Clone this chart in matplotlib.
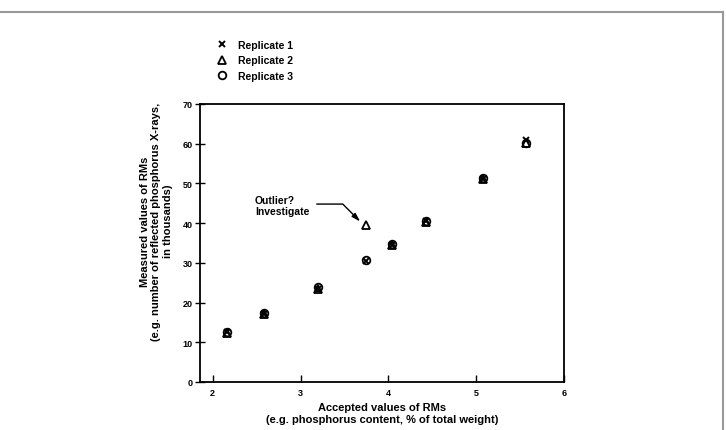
import numpy as np
import matplotlib.pyplot as plt
from matplotlib.lines import Line2D

plt.rcParams['font.family'] = ['Liberation Sans', 'DejaVu Sans']

# accepted values of the reference materials (% P)
accepted = [2.16, 2.58, 3.20, 3.75, 4.04, 4.43, 5.08, 5.57]
# measured values, thousands of counts
rep1 = [12.5, 17.0, 23.5, 30.5, 34.5, 40.5, 51.0, 61.0]
rep2 = [12.3, 17.2, 23.3, 39.5, 34.4, 40.2, 51.2, 60.2]
rep3 = [12.7, 17.3, 24.0, 30.6, 34.7, 40.6, 51.3, 60.3]

xticks = [2, 3, 4, 5, 6]
yticks = [0, 10, 20, 30, 40, 50, 60, 70]

fig = plt.figure(figsize=(7.26, 4.31), dpi=100)
ax = fig.add_axes([0.2755, 0.1114, 0.5014, 0.645])

ax.plot(accepted, rep1, 'x', color='black', ms=5, mew=1.4, label='Replicate 1')
ax.plot(accepted, rep2, '^', mfc='none', color='black', ms=6, mew=1.3, label='Replicate 2')
ax.plot(accepted, rep3, 'o', mfc='none', color='black', ms=5.5, mew=1.3, label='Replicate 3')

ax.set_xlim(1.856, 6)
ax.set_ylim(0, 70)
ax.set_xticks(xticks)
ax.set_yticks(yticks)
ax.tick_params(axis='x', direction='in', length=5, width=1, labelsize=6.5, pad=4)
ax.tick_params(axis='y', direction='inout', length=7, width=1, labelsize=6.5, pad=2)
for lab in ax.get_xticklabels() + ax.get_yticklabels():
    lab.set_fontweight('bold')
for sp in ax.spines.values():
    sp.set_linewidth(1.3)

ax.set_xlabel('Accepted values of RMs\n(e.g. phosphorus content, % of total weight)',
              fontsize=8, fontweight='bold', labelpad=4, linespacing=1.25)
ax.set_ylabel('Measured values of RMs\n(e.g. number of reflected phosphorus X-rays,\nin thousands)',
              fontsize=8, fontweight='bold', linespacing=1.2)
ax.yaxis.set_label_coords(-0.075, 0.58)

ax.text(2.48, 47.2, 'Outlier?\nInvestigate', fontsize=7.5, fontweight='bold',
        va='top', ha='left', linespacing=1.15)
ax.annotate('', xy=(3.68, 40.4), xytext=(3.185, 44.8),
            arrowprops=dict(arrowstyle='-|>,head_length=0.5,head_width=0.15',
                            color='black', lw=1,
                            connectionstyle='angle,angleA=0,angleB=135,rad=0',
                            shrinkA=0, shrinkB=0))

leg = fig.legend(loc='upper left', bbox_to_anchor=(0.29, 0.918), frameon=False,
                 prop={'size': 7.5, 'weight': 'bold'}, handlelength=1.2,
                 handletextpad=0.9, labelspacing=0.55, borderpad=0)

# thin grey frame line at top and right of the page
fig.add_artist(Line2D([0, 0.996], [0.969, 0.969], color='#999999', lw=1.5,
                      transform=fig.transFigure))
fig.add_artist(Line2D([0.996, 0.996], [0.969, 0], color='#999999', lw=1.5,
                      transform=fig.transFigure))

fig.savefig('out.png', dpi=100)
